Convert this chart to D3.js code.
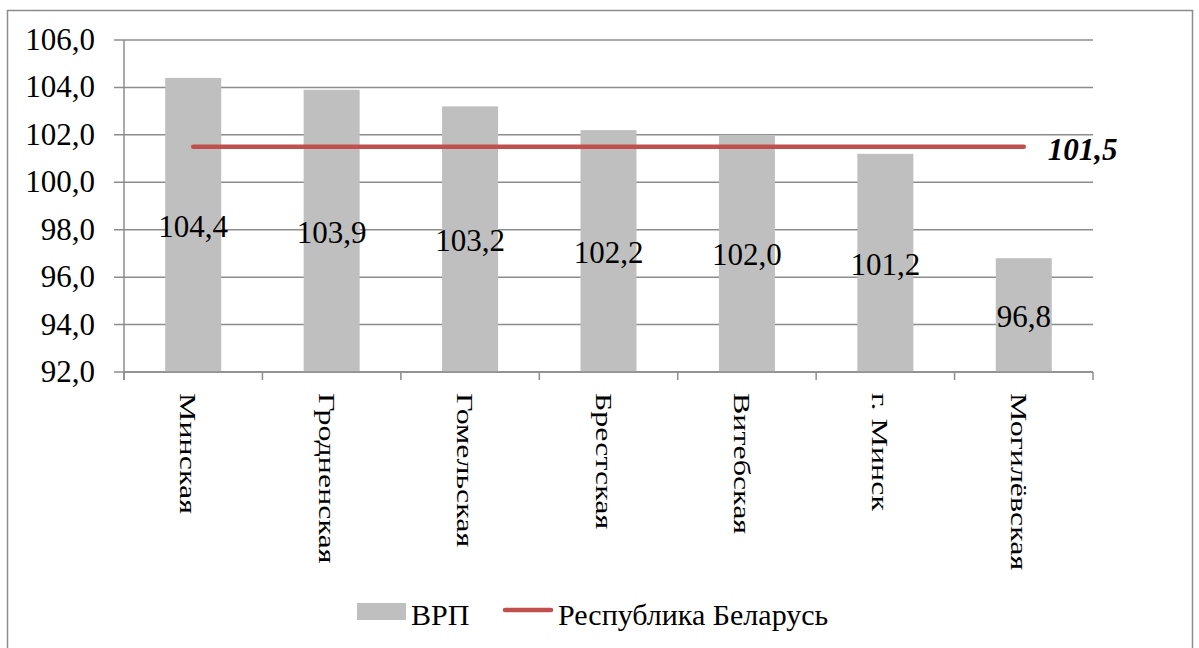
<!DOCTYPE html>
<html>
<head>
<meta charset="utf-8">
<script src="https://cdn.jsdelivr.net/npm/d3@7"></script>
</head>
<body style="margin:0;background:#fff">
<svg id="chart" width="1199" height="648" style="display:block"></svg>
<script>
// data
var regions = ['Минская','Гродненская','Гомельская','Брестская','Витебская','г. Минск','Могилёвская'];
var grp = [104.4, 103.9, 103.2, 102.2, 102.0, 101.2, 96.8];
var republic = [101.5, 101.5, 101.5, 101.5, 101.5, 101.5, 101.5];
var yTicks = [92, 94, 96, 98, 100, 102, 104, 106];

var colorBar = '#bfbfbf';
var colorLine = '#c0504d';
var colorGrid = '#8c8c8c';
var fontSerif = "'Liberation Serif'";
var fmt = function(v){ return v.toFixed(1).replace('.', ','); };

var svg = d3.select('#chart');

// outer frame
svg.append('rect')
   .attr('x',7.5).attr('y',10.5)
   .attr('width',1185).attr('height',650)
   .attr('fill','none')
   .attr('stroke','#8c8c8c')
   .attr('stroke-width',1.5);

var plotLeft = 124, plotRight = 1093, plotTop = 40, plotBottom = 372;

var x = d3.scaleBand().domain(regions).range([plotLeft,plotRight]);
var y = d3.scaleLinear().domain([92,106]).range([plotBottom,plotTop]);

// grid
svg.append('g')
   .selectAll('line')
   .data(yTicks)
   .enter().append('line')
   .attr('x1',plotLeft-10).attr('x2',plotRight)
   .attr('y1',function(d){ return y(d); })
   .attr('y2',function(d){ return y(d); })
   .attr('stroke',colorGrid)
   .attr('stroke-width',1.5);

// y labels
svg.append('g')
   .selectAll('text')
   .data(yTicks)
   .enter().append('text')
   .text(fmt)
   .attr('x',plotLeft-29)
   .attr('y',function(d){ return y(d)+10; })
   .attr('text-anchor','end')
   .style('font-family',fontSerif)
   .style('font-size','31px');

// bars
var bw = 56;
svg.append('g')
   .selectAll('rect')
   .data(grp)
   .enter().append('rect')
   .attr('x',function(d,i){ return x(regions[i]) + x.bandwidth()/2 - bw/2; })
   .attr('y',function(d){ return y(d); })
   .attr('width',bw)
   .attr('height',function(d){ return plotBottom - y(d); })
   .attr('fill',colorBar);

// axes lines
svg.append('line')
   .attr('x1',plotLeft).attr('x2',plotLeft)
   .attr('y1',plotTop).attr('y2',plotBottom+8)
   .attr('stroke',colorGrid).attr('stroke-width',1.5);
svg.append('line')
   .attr('x1',plotLeft).attr('x2',plotRight)
   .attr('y1',plotBottom).attr('y2',plotBottom)
   .attr('stroke',colorGrid).attr('stroke-width',1.5);
var bounds = regions.map(function(r){ return x(r); }).concat([plotRight]);
svg.append('g')
   .selectAll('line')
   .data(bounds)
   .enter().append('line')
   .attr('x1',function(d){ return d; })
   .attr('x2',function(d){ return d; })
   .attr('y1',plotBottom).attr('y2',plotBottom+8)
   .attr('stroke',colorGrid).attr('stroke-width',1.5);

// republic line
var line = d3.line()
   .x(function(d,i){ return x(regions[i]) + x.bandwidth()/2; })
   .y(function(d){ return y(d); });
svg.append('path')
   .datum(republic)
   .attr('d',line)
   .attr('fill','none')
   .attr('stroke',colorLine)
   .attr('stroke-width',4.5)
   .attr('stroke-linecap','round');

svg.append('text')
   .text(fmt(republic[republic.length-1]))
   .attr('x',x(regions[6]) + x.bandwidth()/2 + 24)
   .attr('y',y(101.5)+13)
   .style('font-family',fontSerif)
   .style('font-size','31px')
   .style('font-weight','bold')
   .style('font-style','italic');

// data labels
svg.append('g')
   .selectAll('text')
   .data(grp)
   .enter().append('text')
   .text(fmt)
   .attr('x',function(d,i){ return x(regions[i]) + x.bandwidth()/2; })
   .attr('y',function(d){ return (y(d)+plotBottom)/2 + 12; })
   .attr('text-anchor','middle')
   .style('font-family',fontSerif)
   .style('font-size','31px');

// category labels
svg.append('g')
   .selectAll('text')
   .data(regions)
   .enter().append('text')
   .text(function(d){ return d; })
   .attr('transform',function(d){ return 'translate(' + (x(d)+x.bandwidth()/2-13) + ',' + (plotBottom+21) + ') rotate(90) scale(1,0.72)'; })
   .attr('text-anchor','start')
   .style('font-family',fontSerif)
   .style('font-size','32px');

// legend
var lg = svg.append('g');
lg.append('rect')
  .attr('x',357).attr('y',603).attr('width',49).attr('height',17)
  .attr('fill',colorBar);
lg.append('text').text('ВРП')
  .attr('x',411).attr('y',625)
  .style('font-family',fontSerif)
  .style('font-size','30px');
lg.append('line')
  .attr('x1',505).attr('x2',551).attr('y1',610).attr('y2',610)
  .attr('stroke',colorLine).attr('stroke-width',4.5).attr('stroke-linecap','round');
lg.append('text').text('Республика Беларусь')
  .attr('x',558).attr('y',625)
  .style('font-family',fontSerif)
  .style('font-size','30px');
</script>
</body>
</html>
